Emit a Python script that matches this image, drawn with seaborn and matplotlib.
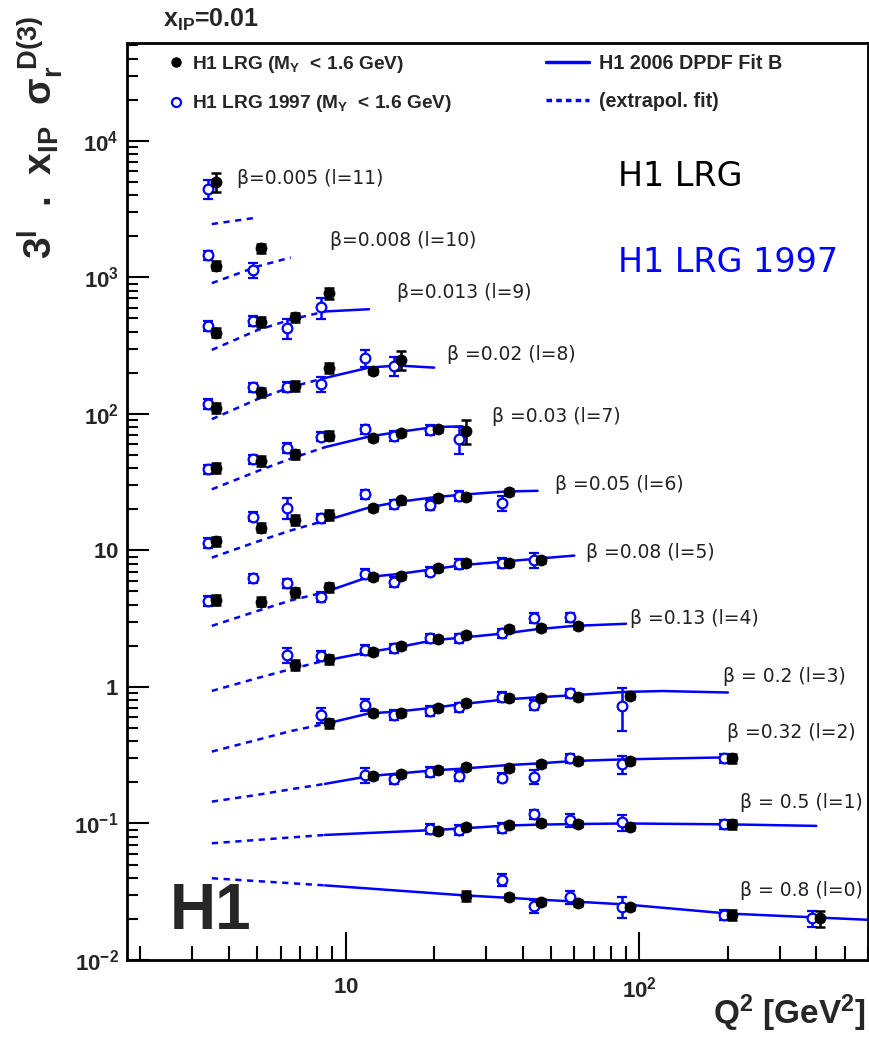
import pandas as pd
import matplotlib
matplotlib.use("Agg")
import matplotlib.pyplot as plt
from matplotlib.lines import Line2D
from matplotlib.ticker import LogLocator, NullFormatter
import seaborn as sns

N = None

# Q2 bins [GeV^2]
q2 = [3.5, 5, 6.5, 8.5, 12, 15, 20, 25, 35, 45, 60, 90, 200, 400]
ells = [11, 10, 9, 8, 7, 6, 5, 4, 3, 2, 1, 0]
beta_labels = ["β=0.005 (l=11)", "β=0.008 (l=10)", "β=0.013 (l=9)", "β =0.02 (l=8)",
               "β =0.03 (l=7)", "β =0.05 (l=6)", "β =0.08 (l=5)", "β =0.13 (l=4)",
               "β = 0.2 (l=3)", "β =0.32 (l=2)", "β = 0.5 (l=1)", "β = 0.8 (l=0)"]

# H1 LRG (filled), 3^l * xIP * sigma_r, one row per l
lrg = [
    [4980, N, N, N, N, N, N, N, N, N, N, N, N, N],
    [1220, 1636, N, N, N, N, N, N, N, N, N, N, N, N],
    [394, 474, 508, 766, N, N, N, N, N, N, N, N, N, N],
    [111, 144, 161, 218, 207, 249, N, N, N, N, N, N, N, N],
    [40.4, 45.3, 50.7, 69.4, 67.0, 73.0, 77.6, 75.0, N, N, N, N, N, N],
    [11.7, 14.7, 16.7, 18.2, 20.6, 23.2, 24.1, 24.8, 26.6, N, N, N, N, N],
    [4.34, 4.22, 4.94, 5.37, 6.43, 6.54, 7.48, 8.14, 8.14, 8.55, N, N, N, N],
    [N, N, 1.45, 1.59, 1.81, 2.00, 2.24, 2.40, 2.64, 2.69, 2.80, N, N, N],
    [N, N, N, 0.542, 0.641, 0.641, 0.705, 0.759, 0.826, 0.836, 0.849, 0.859, N, N],
    [N, N, N, N, 0.223, 0.229, 0.246, 0.258, 0.253, 0.272, 0.288, 0.287, 0.300, N],
    [N, N, N, N, N, N, 0.0882, 0.0938, 0.0975, 0.1002, 0.099, 0.0938, 0.0986, N],
    [N, N, N, N, N, N, N, 0.0296, 0.0291, 0.0267, 0.0260, 0.0246, 0.0214, 0.0202],
]
# total errors in percent
lrg_err = [
    [16, N, N, N, N, N, N, N, N, N, N, N, N, N],
    [8, 8, N, N, N, N, N, N, N, N, N, N, N, N],
    [8, 8, 8, 9, N, N, N, N, N, N, N, N, N, N],
    [8, 8, 8, 8, 5, 16, N, N, N, N, N, N, N, N],
    [8, 8, 8, 8, 5, 5, 5, 20, N, N, N, N, N, N],
    [8, 8, 8, 8, 5, 5, 5, 5, 5, N, N, N, N, N],
    [8, 8, 8, 8, 5, 5, 5, 5, 5, 5, N, N, N, N],
    [N, N, 8, 8, 5, 5, 5, 5, 5, 5, 5, N, N, N],
    [N, N, N, 8, 5, 5, 5, 5, 5, 5, 5, 5, N, N],
    [N, N, N, N, 5, 5, 5, 5, 5, 5, 5, 5, 7, N],
    [N, N, N, N, N, N, 5, 5, 5, 5, 5, 5, 7, N],
    [N, N, N, N, N, N, N, 8, 5, 5, 5, 5, 8, 14],
]

# H1 LRG 1997 (open)
lrg97 = [
    [4430, N, N, N, N, N, N, N, N, N, N, N, N, N],
    [1445, 1135, N, N, N, N, N, N, N, N, N, N, N, N],
    [441, 480, 424, 601, N, N, N, N, N, N, N, N, N, N],
    [118, 156, 158, 165, 256, 225, N, N, N, N, N, N, N, N],
    [39.4, 46.6, 56.6, 68.2, 77.2, 69.0, 76.4, 65.2, N, N, N, N, N, N],
    [11.4, 17.7, 20.6, 17.2, 25.8, 21.8, 21.5, 25.1, 22.3, N, N, N, N, N],
    [4.27, 6.25, 5.75, 4.59, 6.73, 5.91, 7.00, 7.96, 8.14, 8.51, N, N, N, N],
    [N, N, 1.71, 1.69, 1.87, 1.92, 2.27, 2.27, 2.47, 3.22, 3.24, N, N, N],
    [N, N, N, 0.624, 0.738, 0.624, 0.670, 0.707, 0.849, 0.738, 0.900, 0.726, N, N],
    [N, N, N, N, 0.2265, 0.211, 0.239, 0.223, 0.217, 0.220, 0.300, 0.272, 0.300, N],
    [N, N, N, N, N, N, 0.0912, 0.0896, 0.0931, 0.1167, 0.106, 0.102, 0.0986, N],
    [N, N, N, N, N, N, N, N, 0.0385, 0.0249, 0.0288, 0.0246, 0.0214, 0.0202],
]
lrg97_err = [
    [16, N, N, N, N, N, N, N, N, N, N, N, N, N],
    [8, 13, N, N, N, N, N, N, N, N, N, N, N, N],
    [8, 8, 16, 17, N, N, N, N, N, N, N, N, N, N],
    [8, 8, 8, 13, 14, 16, N, N, N, N, N, N, N, N],
    [8, 8, 8, 8, 8, 8, 8, 22, N, N, N, N, N, N],
    [8, 8, 17, 8, 8, 8, 8, 8, 13, N, N, N, N, N],
    [8, 8, 8, 8, 8, 8, 8, 8, 8, 13, N, N, N, N],
    [N, N, 13, 8, 8, 8, 8, 8, 8, 8, 8, N, N, N],
    [N, N, N, 13, 10, 8, 8, 8, 8, 8, 8, 35, N, N],
    [N, N, N, N, 12, 8, 8, 8, 8, 12, 8, 15, 8, N],
    [N, N, N, N, N, N, 8, 8, 8, 8, 11, 13, 8, N],
    [N, N, N, N, N, N, N, N, 10, 11, 11, 17, 9, 13],
]

# H1 2006 DPDF Fit B: extrapolated (dashed) and fitted (solid) parts
fit_dash_q2 = [3.5, 5, 6.5, 8.5]
fit_dash = [
    [2455, 2740, N, N],
    [906, 1200, 1397, N],
    [294, 410, 490, 562],
    [91.4, 128, 157, 183],
    [28.0, 38, 47, 57],
    [8.85, 11.6, 14.0, 16.5],
    [2.8, 3.6, 4.3, 4.95],
    [0.935, 1.16, 1.35, 1.56],
    [0.336, 0.41, 0.475, 0.536],
    [0.1445, 0.162, 0.178, 0.195],
    [0.0716, N, N, 0.0824],
    [0.0397, N, N, 0.0352],
]
fit_solid_q2 = [8.5, 12, 15, 20, 25, 35, 45, 60, 90, 120, 200, 400, 600]
fit_solid = [
    [N, N, N, N, N, N, N, N, N, N, N, N, N],
    [N, N, N, N, N, N, N, N, N, N, N, N, N],
    [562, 584, N, N, N, N, N, N, N, N, N, N, N],
    [183, 218, 226, 218, N, N, N, N, N, N, N, N, N],
    [57, 68.2, 73.5, 80, 81, N, N, N, N, N, N, N, N],
    [16.5, 20.6, 22.6, 24.5, 25.6, 27.0, 27.3, N, N, N, N, N, N],
    [4.95, 6.4, 6.7, 7.3, 7.8, 8.3, 8.7, 9.16, N, N, N, N, N],
    [1.56, 1.8, 1.95, 2.2, 2.3, 2.47, 2.65, 2.8, 2.9, N, N, N, N],
    [0.536, 0.64, 0.66, 0.705, 0.75, 0.81, 0.84, 0.87, 0.92, 0.933, 0.91, N, N],
    [0.195, 0.222, 0.232, 0.245, 0.252, 0.267, 0.275, 0.287, 0.295, N, 0.305, N, N],
    [0.0824, N, N, 0.0895, 0.092, 0.0965, 0.098, 0.099, 0.100, N, 0.0985, 0.096, N],
    [0.0352, N, N, N, 0.0298, N, N, N, 0.0255, N, 0.0219, N, 0.0197],
]

W, H = 870, 1040
BLUE = "#0000ff"


def fx(px):
    return px / W


def fy(py):
    return 1 - py / H


# label anchor points (left edge, vertical centre) in pixels
label_xy = [(237, 178), (330, 240), (397, 292), (447, 355), (492, 417), (555, 485),
            (586, 553), (630, 618), (723, 677), (727, 733), (740, 802), (740, 890)]

sns.set_style("ticks")
plt.rcParams["font.family"] = ["Liberation Sans", "DejaVu Sans"]
plt.rcParams["mathtext.fontset"] = "custom"
plt.rcParams["mathtext.rm"] = "Liberation Sans"
plt.rcParams["mathtext.it"] = "Liberation Sans:italic"
plt.rcParams["mathtext.bf"] = "Liberation Sans:bold"

fig = plt.figure(figsize=(8.7, 10.4), dpi=100)
ax = fig.add_axes([fx(127), fy(960), 741 / W, 917 / H])
ax.set_xscale("log")
ax.set_yscale("log")

# fit curves
rows = []
for i, l in enumerate(ells):
    for q, v in zip(fit_dash_q2, fit_dash[i]):
        if v is not None:
            rows.append(("dash", l, q, v))
    for q, v in zip(fit_solid_q2, fit_solid[i]):
        if v is not None:
            rows.append(("solid", l, q, v))
fits = pd.DataFrame(rows, columns=["part", "l", "Q2", "val"])

sns.lineplot(data=fits[fits["part"] == "solid"], x="Q2", y="val", units="l",
             estimator=None, color=BLUE, lw=1.8, ax=ax, legend=False, zorder=2)
sns.lineplot(data=fits[fits["part"] == "dash"], x="Q2", y="val", units="l",
             estimator=None, color=BLUE, lw=1.8, linestyle=(0, (2.5, 2.2)),
             ax=ax, legend=False, zorder=2)

# data points, slightly displaced in Q2 for visibility
for i, l in enumerate(ells):
    pts = [(q * 0.97, v, v * e / 100) for q, v, e in zip(q2, lrg97[i], lrg97_err[i]) if v is not None]
    if pts:
        x, y, err = zip(*pts)
        ax.errorbar(x, y, yerr=err, fmt="o", ms=7, mfc="white", mec=BLUE, mew=1.6,
                    ecolor=BLUE, elinewidth=1.8, capsize=3.5, capthick=1.8, zorder=3)
    pts = [(q * 1.03, v, v * e / 100) for q, v, e in zip(q2, lrg[i], lrg_err[i]) if v is not None]
    if pts:
        x, y, err = zip(*pts)
        ax.errorbar(x, y, yerr=err, fmt="o", ms=7.5, color="black",
                    elinewidth=1.8, capsize=3.5, capthick=1.8, zorder=4)

ax.set_xlim(1.8, 600)
ax.set_ylim(0.01, 5.2e4)
ax.set_xlabel("")
ax.set_ylabel("")

ax.set_xticks([10, 100])
ax.set_xticklabels([r"$\mathbf{10}$", r"$\mathbf{10^{2}}$"])
ax.set_yticks([0.01, 0.1, 1, 10, 100, 1000, 10000])
ax.set_yticklabels([r"$\mathbf{10^{-2}}$", r"$\mathbf{10^{-1}}$", r"$\mathbf{1}$", r"$\mathbf{10}$",
                    r"$\mathbf{10^{2}}$", r"$\mathbf{10^{3}}$", r"$\mathbf{10^{4}}$"])
ax.xaxis.set_minor_locator(LogLocator(base=10, subs=range(2, 10), numticks=20))
ax.yaxis.set_minor_locator(LogLocator(base=10, subs=range(2, 10), numticks=20))
ax.xaxis.set_minor_formatter(NullFormatter())
ax.yaxis.set_minor_formatter(NullFormatter())
ax.tick_params(which="both", direction="in", top=False, right=False, width=1.5,
               labelsize=16, color="black")
ax.tick_params(axis="x", which="major", length=20, pad=12)
ax.tick_params(axis="x", which="minor", length=10)
ax.tick_params(axis="y", which="major", length=16, pad=6)
ax.tick_params(axis="y", which="minor", length=8)
for s in ax.spines.values():
    s.set_linewidth(2)
    s.set_color("black")

# axis titles
fig.text(fx(866), fy(1013), r"Q$^{\mathbf{2}}$ [GeV$^{\mathbf{2}}$]", fontsize=24,
         fontweight="bold", ha="right", va="center")
fig.text(fx(40), fy(16),
         r"3$^{\mathbf{l}}$  .  x$_{\mathbf{IP}}$  σ$_{\mathbf{r}}^{\mathbf{\ D(3)}}$",
         fontsize=28, fontweight="bold", rotation=90, ha="center", va="top")
fig.text(fx(163), fy(20), r"x$_{\mathbf{IP}}$=0.01", fontsize=18, fontweight="bold",
         va="center")

# beta labels
for (px, py), lab in zip(label_xy, beta_labels):
    fig.text(fx(px), fy(py), lab, fontsize=13.5, color="#222222", va="center",
             family=["DejaVu Sans"])

fig.text(fx(618), fy(176), "H1 LRG", fontsize=24, color="black", va="center",
         family=["DejaVu Sans"])
fig.text(fx(618), fy(262), "H1 LRG 1997", fontsize=24, color=BLUE, va="center",
         family=["DejaVu Sans"])
fig.text(fx(170), fy(912), "H1", fontsize=46, fontweight="bold", va="center")

# legends
h_data = [Line2D([], [], ls="none", marker="o", ms=6.5, color="black"),
          Line2D([], [], ls="none", marker="o", ms=6.5, mfc="white", mec=BLUE, mew=1.6)]
leg1 = ax.legend(h_data, [r"H1 LRG (M$_{\mathbf{Y}}$  < 1.6 GeV)", r"H1 LRG 1997 (M$_{\mathbf{Y}}$  < 1.6 GeV)"],
                 loc="upper left", bbox_to_anchor=(fx(168), fy(54)), bbox_transform=fig.transFigure,
                 frameon=False, handlelength=0.8, handletextpad=0.45, labelspacing=0.95,
                 borderpad=0, borderaxespad=0, prop={"weight": "bold", "size": 13.8})
ax.add_artist(leg1)
h_fit = [Line2D([], [], color=BLUE, lw=2.5),
         Line2D([], [], color=BLUE, lw=2.5, linestyle=(0, (1.6, 1.2)))]
ax.legend(h_fit, ["H1 2006 DPDF Fit B", "(extrapol. fit)"],
          loc="upper left", bbox_to_anchor=(fx(546), fy(54)), bbox_transform=fig.transFigure,
          frameon=False, handlelength=2.2, handletextpad=0.5, labelspacing=0.95,
          borderpad=0, borderaxespad=0, prop={"weight": "bold", "size": 14.2})

fig.savefig("out.png", dpi=100)
